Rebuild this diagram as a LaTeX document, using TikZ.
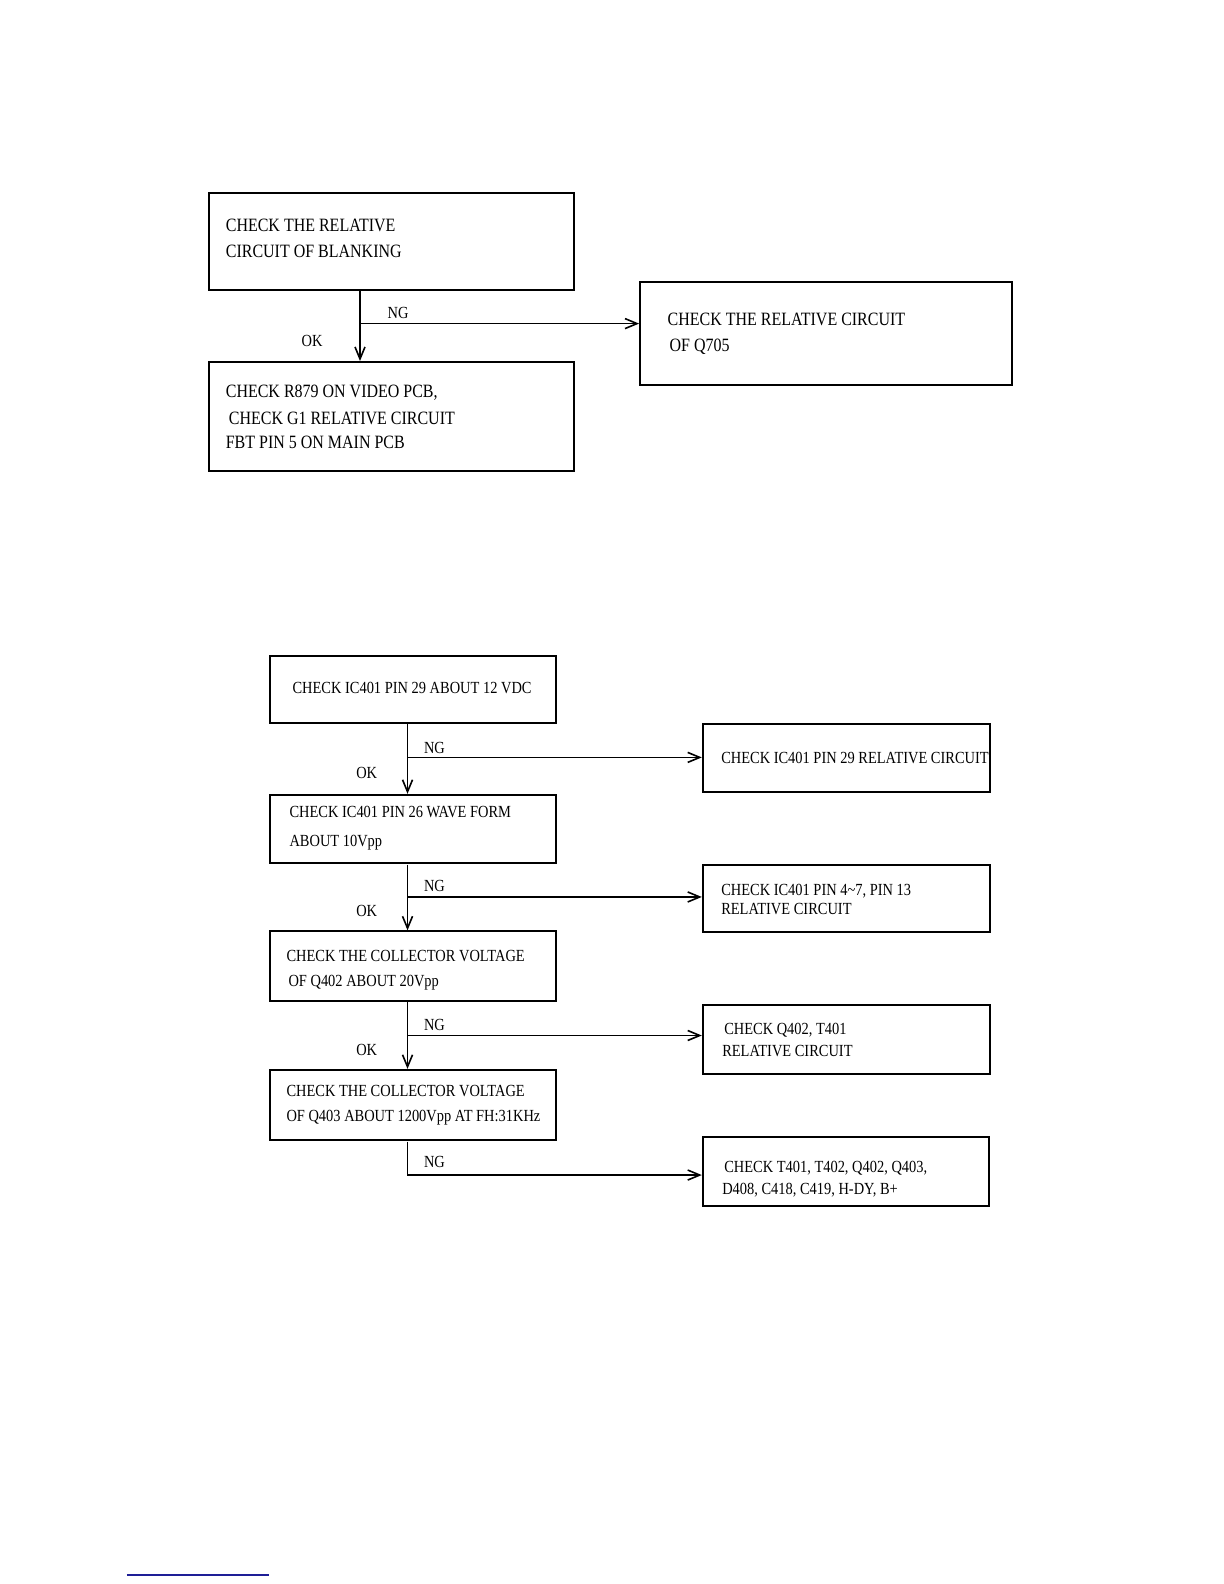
\documentclass[tikz,border=0pt]{standalone}
\usepackage{fontspec}
\setmainfont{Liberation Serif}[FakeStretch=0.85]
\usetikzlibrary{arrows.meta}
\definecolor{footblue}{RGB}{30,30,150}
\begin{document}
\begin{tikzpicture}[x=0.5pt,y=-0.5pt,
  box/.style={draw, line width=1pt, inner sep=0pt, anchor=north west},
  conn/.style={line width=0.8pt},
  arr/.style={conn, -{Straight Barb[length=6pt,width=5pt]}},
  tt/.style={anchor=base west, inner sep=0pt, font=\fontsize{9.3}{10}\selectfont},
  bt/.style={anchor=base west, inner sep=0pt, font=\fontsize{8.4}{9}\selectfont},
  lab/.style={anchor=base west, inner sep=0pt, font=\fontsize{8.4}{9}\selectfont}]
\useasboundingbox (0,0) rectangle (1224,1584);
\begin{scope}[scale=1.011, transform shape]

% ---------- top flow ----------
\node[box, minimum width=180.5pt, minimum height=48pt] (A) at (206,190) {};
\node[box, minimum width=184pt, minimum height=51pt] (B) at (632,278) {};
\node[box, minimum width=180.5pt, minimum height=54pt] (C) at (206,357) {};

\node[tt] (A1) at (223,229) {CHECK THE RELATIVE};
\node[tt] (A2) at (223,255) {CIRCUIT OF BLANKING};
\node[tt] (B1) at (660,322) {CHECK THE RELATIVE CIRCUIT};
\node[tt] (B2) at (662,348) {OF Q705};
\node[tt] (C1) at (223,393) {CHECK R879 ON VIDEO PCB,};
\node[tt] (C2) at (226,420) {CHECK G1 RELATIVE CIRCUIT};
\node[tt] (C3) at (223,444) {FBT PIN 5 ON MAIN PCB};

\coordinate (vt) at (356,0);
\coordinate (n1) at (356,320);
\draw[arr] (A.south -| vt) -- (C.north -| vt);
\draw[arr] (n1) -- (n1 -| B.west);
\node[lab] (ng1) at (383,315) {NG};
\node[lab] (ok1) at (298,343) {OK};

% ---------- bottom flow ----------
\node[box, minimum width=141.5pt, minimum height=33pt] (D) at (266,648) {};
\node[box, minimum width=142pt, minimum height=33.5pt] (E) at (694,715) {};
\node[box, minimum width=141.5pt, minimum height=34pt] (F) at (266,785) {};
\node[box, minimum width=142pt, minimum height=33pt] (G) at (694,855) {};
\node[box, minimum width=141.5pt, minimum height=34.5pt] (H) at (266,920) {};
\node[box, minimum width=142pt, minimum height=34pt] (I) at (694,993) {};
\node[box, minimum width=141.5pt, minimum height=35pt] (J) at (266,1057) {};
\node[box, minimum width=141.5pt, minimum height=34pt] (K) at (694,1124) {};

\node[bt] (D1) at (289,686) {CHECK IC401 PIN 29 ABOUT 12 VDC};
\node[bt] (E1) at (713,755) {CHECK IC401 PIN 29 RELATIVE CIRCUIT};
\node[bt] (F1) at (286,809) {CHECK IC401 PIN 26 WAVE FORM};
\node[bt] (F2) at (286,837) {ABOUT 10Vpp};
\node[bt] (G1) at (713,886) {CHECK IC401 PIN 4\textasciitilde7, PIN 13};
\node[bt] (G2) at (713,905) {RELATIVE CIRCUIT};
\node[bt] (H1) at (283,951) {CHECK THE COLLECTOR VOLTAGE};
\node[bt] (H2) at (285,976) {OF Q402 ABOUT 20Vpp};
\node[bt] (I1) at (716,1023) {CHECK Q402, T401};
\node[bt] (I2) at (714,1045) {RELATIVE CIRCUIT};
\node[bt] (J1) at (283,1085) {CHECK THE COLLECTOR VOLTAGE};
\node[bt] (J2) at (283,1109) {OF Q403 ABOUT 1200Vpp AT FH:31KHz};
\node[bt] (K1) at (716,1160) {CHECK T401, T402, Q402, Q403,};
\node[bt] (K2) at (714,1181) {D408, C418, C419, H-DY, B+};

\coordinate (vb) at (403,0);
\coordinate (n2) at (403,749);
\coordinate (n3) at (403,887);
\coordinate (n4) at (403,1024);
\coordinate (n5) at (403,1162);

\draw[arr] (D.south -| vb) -- (F.north -| vb);
\draw[arr] (F.south -| vb) -- (H.north -| vb);
\draw[arr] (H.south -| vb) -- (J.north -| vb);
\draw[arr] (n2) -- (n2 -| E.west);
\draw[arr] (n3) -- (n3 -| G.west);
\draw[arr] (n4) -- (n4 -| I.west);
\draw[arr] (J.south -| vb) -- (n5) -- (n5 -| K.west);

\node[lab] (ng2) at (419,745) {NG};
\node[lab] (ok2) at (352,770) {OK};
\node[lab] (ng3) at (419,882) {NG};
\node[lab] (ok3) at (352,907) {OK};
\node[lab] (ng4) at (419,1019) {NG};
\node[lab] (ok4) at (352,1044) {OK};
\node[lab] (ng5) at (419,1155) {NG};

% footnote rule
\draw[footblue, line width=1pt] (125.6,1558) -- (266,1558);
\end{scope}
\end{tikzpicture}
\end{document}
